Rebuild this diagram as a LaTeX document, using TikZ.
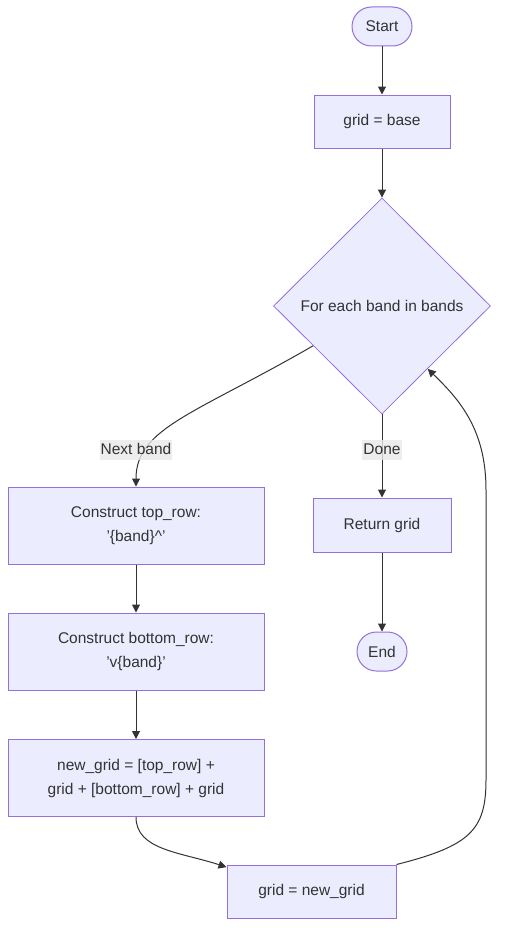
\documentclass[tikz,border=0pt]{standalone}
\usepackage{fontspec}
\setmainfont{Liberation Sans}
\usepackage{tikz}
\usetikzlibrary{arrows.meta, shapes.geometric}
\tikzset{>={Stealth[inset=0pt,length=8pt,width=8pt]}}
\definecolor{boxfill}{HTML}{ECECFF}
\definecolor{boxline}{HTML}{9370DB}
\definecolor{ink}{HTML}{333333}
\definecolor{lblfill}{HTML}{E8E8E8}

\begin{document}
\begin{tikzpicture}[x=1pt, y=-1pt, line width=1pt,
  box/.style={draw=boxline, fill=boxfill, text=ink, align=center, inner sep=0pt, font=\fontsize{15.5}{24}\selectfont},
  term/.style={box, rounded corners=19.5pt, minimum height=39pt},
  cond/.style={box, diamond, line width=.8pt, minimum width=217pt, minimum height=216pt},
  lbl/.style={fill=lblfill, fill opacity=0.8, text opacity=1, text=ink, inner xsep=1pt, inner ysep=3pt, text height=11pt, text depth=3pt, font=\fontsize{15.5}{19}\selectfont},
  edge/.style={->, draw=ink}]
		\useasboundingbox (0,0) rectangle (507,942);
		\node[term, minimum width=60pt] (S0) at (382,26.5) {Start};
		\node[box, minimum width=136pt, minimum height=53pt] (G0) at (382,121.5) {grid = base};
		\node[cond] (F0) at (382,306) {For each band in bands};
		\node[box, minimum width=256pt, minimum height=77pt] (T1) at (136,525.5) {Construct top\_row:\\'\{band\}\string^'};
		\node[box, minimum width=256pt, minimum height=77pt] (B1) at (136,651.5) {Construct bottom\_row:\\'v\{band\}'};
		\node[box, minimum width=256pt, minimum height=77pt] (N1) at (136,778) {new\_grid = [top\_row] +\\grid + [bottom\_row] + grid};
		\node[box, minimum width=169pt, minimum height=53pt] (G1) at (311.5,891.5) {grid = new\_grid};
		\node[box, minimum width=138pt, minimum height=54pt] (R1) at (382,525) {Return grid};
		\node[term, minimum width=50pt] (E1) at (382,651.5) {End};
		% straight edges
		\draw[edge] (S0)--(G0); \draw[edge] (G0)--(F0);
		\draw[edge] (T1)--(B1); \draw[edge] (B1)--(N1);
		\draw[edge] (F0.south)--(R1); \draw[edge] (R1)--(E1);
		% curved edges
		\draw[edge] (F0.210) .. controls (195,414) and (136,428) .. (T1.north);
		\draw[edge] (N1.south) .. controls (136,850) and (180,852) .. (G1.164);
		\draw[edge] (G1.north east) .. controls (470,846) and (486,830) .. (486,780)
			-- (486,490) .. controls (486,430) and (460,400) .. (F0.306);
		% edge labels
		\node[lbl] (L1) at (136,450) {Next band};
		\node[lbl] (L2) at (382,450) {Done};
		\end{tikzpicture}
\end{document}
